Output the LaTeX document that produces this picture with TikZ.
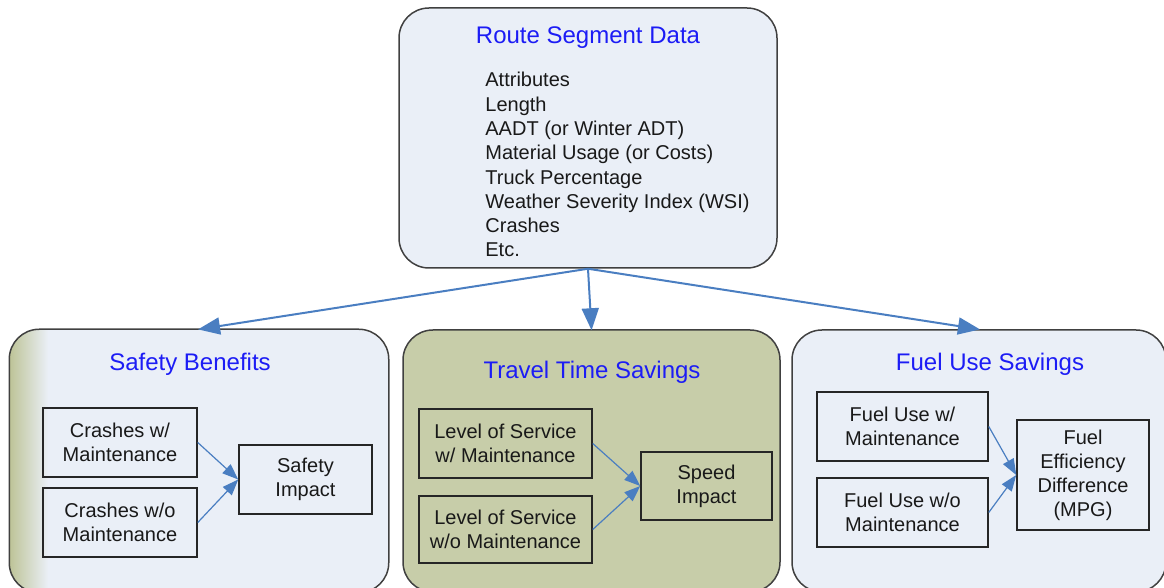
\documentclass[tikz,border=0pt]{standalone}
\usepackage{fontspec}
\setmainfont{Liberation Sans}
\usetikzlibrary{arrows.meta}

\definecolor{panelfill}{RGB}{234,239,247}
\definecolor{olivefill}{RGB}{199,205,169}
\definecolor{olivedeep}{RGB}{190,196,152}
\definecolor{titleblue}{RGB}{28,28,245}
\definecolor{flowblue}{RGB}{74,126,193}
\definecolor{framegray}{RGB}{64,64,64}

\tikzset{
  panel/.style={draw=framegray, line width=0.75pt, rounded corners=15pt,
    minimum width=#1, minimum height=131pt, inner sep=0pt},
  paneltitle/.style={text=titleblue, font=\fontsize{12}{14}\selectfont, inner sep=0pt},
  itembox/.style={draw=black!85, line width=0.75pt, align=center,
    font=\fontsize{10}{12}\selectfont, inner sep=0pt, text=black!90},
  bigflow/.style={draw=flowblue, line width=1pt,
    -{Triangle[length=11pt,width=8.5pt]}, shorten >=-0.5pt},
  smallflow/.style={draw=flowblue, line width=0.6pt,
    -{Triangle[length=8pt,width=6pt]}},
}

\begin{document}
\begin{tikzpicture}[x=0.5pt,y=-0.5pt]
\useasboundingbox (0,0) rectangle (1164,588);
\clip (0,0) rectangle (1164,588);

% source data box
\node[panel=189pt, minimum height=130pt, fill=panelfill] (route) at (588,138) {};
\node[paneltitle] (routetitle) at (588,38) {Route Segment Data};
\node[anchor=north west, align=left, inner sep=0pt,
      font=\fontsize{10}{12.15}\selectfont, text=black!90] (routelist) at (485,72)
  {Attributes\\Length\\AADT (or Winter ADT)\\Material Usage (or Costs)\\Truck Percentage\\Weather Severity Index (WSI)\\Crashes\\Etc.};

% three benefit panels
\node[panel=189pt, fill=panelfill, draw=none] (safety) at (199,461) {};
\node[panel=188.5pt, fill=olivefill] (travel) at (591.5,461) {};
\node[panel=187pt, fill=panelfill] (fuel) at (979,461) {};

% olive fade along the left edge of the safety panel
\begin{scope}
  \clip[rounded corners=15pt] (safety.north west) rectangle (safety.south east);
  \shade[left color=olivedeep, right color=panelfill] (10,330) rectangle (48,600);
\end{scope}
\draw[framegray, line width=0.75pt, rounded corners=15pt]
  (safety.north west) rectangle (safety.south east);

% panel titles
\node[paneltitle] (safetytitle) at (190,364) {Safety Benefits};
\node[paneltitle] (traveltitle) at (592,372) {Travel Time Savings};
\node[paneltitle] (fueltitle) at (990,364) {Fuel Use Savings};

% safety panel contents
\node[itembox, minimum width=77pt, minimum height=34.5pt] (crw) at (120,442.5) {Crashes w/\\Maintenance};
\node[itembox, minimum width=77pt, minimum height=34.5pt] (crwo) at (120,522.5) {Crashes w/o\\Maintenance};
\node[itembox, minimum width=66.5pt, minimum height=34.5pt] (safeimp) at (305.5,479.5) {Safety\\Impact};

% travel panel contents
\node[itembox, minimum width=86.5pt, minimum height=34.5pt] (losw) at (505.5,443.5) {Level of Service\\w/ Maintenance};
\node[itembox, minimum width=86.5pt, minimum height=33.5pt] (loswo) at (505.5,529.5) {Level of Service\\w/o Maintenance};
\node[itembox, minimum width=65.5pt, minimum height=34pt] (speedimp) at (706.5,486) {Speed\\Impact};

% fuel panel contents
\node[itembox, minimum width=85.5pt, minimum height=34.5pt] (fuw) at (902.5,426.5) {Fuel Use w/\\Maintenance};
\node[itembox, minimum width=85.5pt, minimum height=34.5pt] (fuwo) at (902.5,512.5) {Fuel Use w/o\\Maintenance};
\node[itembox, minimum width=66pt, minimum height=55pt] (fueleff) at (1083,475) {Fuel\\Efficiency\\Difference\\(MPG)};

% connectors from the data box
\draw[bigflow] (route.south) -- (safety.north);
\draw[bigflow] (route.south) -- (travel.north);
\draw[bigflow] (route.south) -- (fuel.north);

% connectors inside the panels
\draw[smallflow] (crw.east) -- (safeimp.west);
\draw[smallflow] (crwo.east) -- (safeimp.west);
\draw[smallflow] (losw.east) -- (speedimp.west);
\draw[smallflow] (loswo.east) -- (speedimp.west);
\draw[smallflow] (fuw.east) -- (fueleff.west);
\draw[smallflow] (fuwo.east) -- (fueleff.west);
\end{tikzpicture}
\end{document}
